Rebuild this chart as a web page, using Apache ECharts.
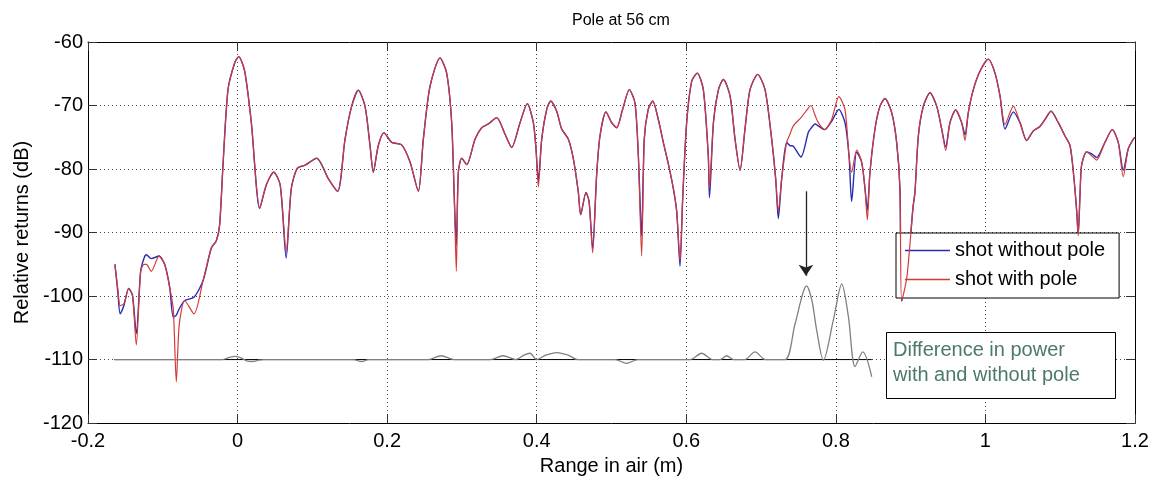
<!DOCTYPE html>
<html>
<head>
<meta charset="utf-8">
<script src="https://cdn.jsdelivr.net/npm/echarts@6/dist/echarts.min.js"></script>
<style>
html,body{margin:0;padding:0;background:#fff;}
#chart{width:1156px;height:481px;}
</style>
</head>
<body>
<div id="chart"></div>
<script>
// ---- data ----
const rangeX = [
 -0.164,-0.160,-0.157,-0.152,-0.1456,-0.1405,-0.1354,-0.1296,-0.125,-0.122,
 -0.1154,-0.105,-0.0975,-0.0908,-0.086,-0.0819,-0.078,-0.0707,-0.0583,-0.0462,
 -0.035,-0.0284,-0.024,-0.0195,-0.0128,-0.0039,0.0015,0.0095,0.0184,0.0296,
 0.0384,0.0483,0.057,0.065,0.0718,0.0798,0.0902,0.1058,0.1213,0.1339,
 0.1437,0.1526,0.1615,0.1704,0.1771,0.1815,0.1882,0.1958,0.2061,0.2194,
 0.2306,0.2417,0.2484,0.2573,0.2707,0.2796,0.2863,0.2898,0.2925,0.2952,
 0.2997,0.3064,0.3175,0.3264,0.3353,0.3465,0.3576,0.3665,0.3777,0.3874,
 0.3955,0.399,0.4022,0.4067,0.4134,0.4187,0.4267,0.4334,0.4423,0.449,
 0.4556,0.4588,0.4659,0.470,0.4748,0.4801,0.4846,0.4926,0.5002,0.5069,
 0.5149,0.5238,0.5314,0.5359,0.5403,0.5438,0.5491,0.5551,0.5626,0.5693,
 0.576,0.5827,0.5872,0.5916,0.5952,0.6005,0.6072,0.6147,0.6228,0.6294,
 0.631,0.6363,0.643,0.6496,0.6585,0.6652,0.6719,0.6785,0.6852,0.6955,
 0.7053,0.7142,0.7195,0.7231,0.7276,0.7342,0.7387,0.7431,0.7534,0.7632,
 0.7667,0.7721,0.7765,0.785,0.7944,0.804,0.8122,0.8176,0.8211,0.8278,
 0.8345,0.839,0.8421,0.8456,0.8523,0.859,0.8657,0.8746,0.8813,0.8857,
 0.888,0.895,0.9032,0.9058,0.9103,0.917,0.9259,0.9348,0.9415,0.9469,
 0.9526,0.9602,0.9682,0.9727,0.9771,0.9838,0.9927,1.0039,1.0128,1.0195,
 1.0262,1.0373,1.0462,1.0551,1.064,1.0729,1.0796,1.0877,1.0975,1.1064,
 1.1131,1.1176,1.1221,1.124,1.1265,1.1286,1.1353,1.142,1.1487,1.1598,
 1.1696,1.1776,1.1843,1.191,1.1977,1.2
];
const withPole = [
 -95.0,-99.0,-101.5,-101.2,-98.8,-99.9,-107.7,-96.1,-95.0,-95.0,
 -96.1,-93.7,-95.0,-98.6,-102.0,-113.5,-104.5,-100.7,-102.8,-97.6,
 -92.4,-91.3,-88.8,-79.4,-67.5,-63.3,-62.3,-64.6,-72.7,-86.2,
 -82.5,-80.5,-82.5,-93.0,-83.1,-79.9,-79.4,-78.3,-81.5,-83.5,
 -75.3,-70.1,-67.6,-70.1,-76.3,-80.5,-76.3,-74.3,-75.8,-76.2,
 -78.9,-83.5,-75.3,-67.0,-62.5,-64.9,-72.7,-84.6,-96.1,-80.5,
 -78.3,-79.3,-75.3,-73.5,-72.9,-71.9,-74.5,-76.6,-72.7,-69.7,
 -72.7,-76.8,-82.8,-75.3,-70.6,-69.3,-70.9,-73.7,-75.3,-78.4,
 -83.6,-87.2,-83.7,-85.1,-93.2,-81.0,-74.8,-71.0,-72.7,-73.5,
 -70.6,-67.5,-69.6,-77.9,-93.7,-75.3,-70.6,-69.3,-72.2,-75.8,
 -79.2,-83.1,-86.7,-94.5,-84.6,-72.7,-66.2,-64.9,-67.5,-77.9,
 -83.0,-72.7,-67.5,-65.9,-68.5,-75.3,-80.2,-73.7,-67.5,-65.1,
 -67.5,-75.3,-81.5,-86.7,-81.5,-75.8,-74.5,-73.2,-71.9,-70.4,
 -70.0,-71.5,-72.7,-73.8,-72.2,-68.6,-70.6,-77.9,-80.5,-77.0,
 -78.9,-83.1,-88.0,-80.5,-73.7,-70.1,-68.9,-71.1,-75.8,-83.1,
 -100.8,-97.0,-86.0,-83.6,-74.8,-70.1,-68.0,-70.1,-73.7,-77.1,
 -72.7,-70.7,-72.7,-75.5,-71.1,-67.5,-64.6,-62.7,-64.9,-68.5,
 -73.0,-70.1,-72.7,-75.5,-74.0,-73.3,-72.2,-70.9,-72.7,-74.8,
 -76.3,-80.5,-86.7,-90.5,-84.0,-79.4,-77.3,-77.9,-78.6,-75.8,
 -73.8,-75.8,-81.2,-76.8,-75.3,-75.0
];
const withoutPole = [
 -95.0,-99.5,-102.8,-101.5,-98.8,-99.9,-105.9,-96.1,-94.0,-93.5,
 -94.1,-93.7,-95.0,-98.6,-103.3,-103.0,-102.0,-100.7,-100.2,-97.6,
 -92.4,-91.3,-88.8,-79.4,-67.5,-63.3,-62.3,-64.6,-72.7,-86.2,
 -82.5,-80.5,-82.5,-94.0,-83.1,-79.9,-79.4,-78.3,-81.5,-83.5,
 -75.3,-70.1,-67.6,-70.1,-76.3,-80.5,-76.3,-74.3,-75.8,-76.2,
 -78.9,-83.5,-75.3,-67.0,-62.5,-64.9,-72.7,-84.6,-92.0,-80.5,
 -78.3,-79.3,-75.3,-73.5,-72.9,-71.9,-74.5,-76.6,-72.7,-69.7,
 -72.7,-76.8,-81.8,-75.3,-70.6,-69.3,-70.9,-73.7,-75.3,-78.4,
 -83.6,-87.2,-83.7,-85.1,-92.5,-81.0,-74.8,-71.0,-72.7,-73.5,
 -70.6,-67.5,-69.6,-77.9,-90.5,-75.3,-70.6,-69.3,-72.2,-75.8,
 -79.2,-83.1,-86.7,-95.3,-84.6,-72.7,-66.2,-64.9,-67.5,-77.9,
 -84.5,-72.7,-67.5,-65.9,-68.5,-75.3,-80.2,-73.7,-67.5,-65.1,
 -67.5,-75.3,-81.5,-87.8,-81.5,-75.8,-76.3,-76.4,-78.1,-74.2,
 -73.6,-72.9,-73.2,-73.8,-72.5,-70.6,-72.7,-77.9,-85.1,-77.3,
 -78.9,-83.1,-86.5,-80.5,-73.7,-70.1,-68.9,-71.1,-75.8,-83.1,
 -100.8,-97.0,-86.0,-83.6,-74.8,-70.1,-68.0,-70.1,-73.7,-76.5,
 -72.7,-70.7,-72.7,-74.6,-71.1,-67.5,-64.6,-62.7,-64.9,-68.5,
 -73.7,-71.0,-72.7,-75.5,-74.0,-73.3,-72.2,-70.9,-72.7,-74.8,
 -76.3,-80.5,-86.7,-90.5,-84.0,-79.4,-77.3,-77.6,-78.2,-75.8,
 -73.8,-75.8,-80.2,-76.8,-75.3,-75.0
];
// difference in power, drawn offset to -110 dB
const diffX = [
 -0.165,-0.02,-0.012,-0.003,0.006,0.012,0.02,0.028,0.035,0.155,
 0.166,0.175,0.255,0.272,0.29,0.338,0.355,0.372,0.383,0.391,
 0.40,0.412,0.427,0.442,0.455,0.505,0.52,0.535,0.605,0.6205,
 0.635,0.645,0.654,0.663,0.678,0.692,0.706,0.732,0.7454,0.761,
 0.768,0.7744,0.7833,0.7966,0.8079,0.8167,0.8257,0.836,0.848
];
const diffY = [
 -110,-110,-109.7,-109.5,-109.8,-110.2,-110.3,-110.1,-110,-110,
 -110.3,-110,-110,-109.4,-110,-110,-109.4,-110,-109.3,-109.0,
 -110,-109.3,-108.9,-109.3,-110,-110,-110.6,-110,-110,-109.0,
 -110,-110,-109.4,-110,-110,-108.8,-110,-110,-104.4,-98.4,
 -100.7,-105.4,-110.1,-103.8,-98.1,-103.2,-111.1,-108.8,-112.7
];
const baseX = [-0.165, 0.848];
const baseY = [-110, -110];
const arrowX = [0.76, 0.76];
const arrowY = [-83.5, -96.8];
const xTickLabels = ['-0.2','0','0.2','0.4','0.6','0.8','1','1.2'];
const yTickLabels = ['-120','-110','-100','-90','-80','-70','-60'];
const seriesNames = ['shot without pole','shot with pole'];
const titleText = 'Pole at 56 cm';
const xName = 'Range in air (m)';
const yName = 'Relative returns (dB)';
const noteText = 'Difference in power\nwith and without pole';

// ---- chart ----
const zip = (a, b) => a.map((v, i) => [v, b[i]]);
const FONT = '"Liberation Sans", Arial, sans-serif';
const chart = echarts.init(document.getElementById('chart'), null, {renderer: 'canvas'});
const grid = {left: 88, right: 21, top: 42, bottom: 54, containLabel: false};
const gridLine = {show: true, lineStyle: {color: '#444', width: 1, type: [1, 3]}};
const tick = {show: true, inside: true, length: 9, lineStyle: {color: '#333'}};
const axLine = {show: true, onZero: false, lineStyle: {color: '#000', width: 1}};

chart.setOption({
  animation: false,
  backgroundColor: '#fff',
  textStyle: {fontFamily: FONT},
  title: {
    text: titleText, left: 567, top: 8,
    textStyle: {fontSize: 16, fontWeight: 'normal', color: '#000', fontFamily: FONT}
  },
  grid: grid,
  legend: {
    data: seriesNames,
    orient: 'vertical', left: 896, top: 233,
    icon: 'rect', itemWidth: 45, itemHeight: 1.5, itemGap: 6,
    padding: [6, 14, 7, 9],
    backgroundColor: '#fff', borderColor: '#000', borderWidth: 1,
    textStyle: {fontSize: 20, color: '#000', fontFamily: FONT, lineHeight: 23}
  },
  xAxis: [{
    type: 'value', min: -0.2, max: 1.2, interval: 0.2,
    name: xName, nameLocation: 'middle', nameGap: 31,
    nameTextStyle: {fontSize: 20, color: '#000', fontFamily: FONT},
    axisLine: axLine, axisTick: tick, splitLine: gridLine,
    axisLabel: {fontSize: 20, color: '#000', margin: 8, fontFamily: FONT,
      formatter: (v, i) => xTickLabels[i]}
  }, {
    type: 'value', position: 'top', min: -0.2, max: 1.2, interval: 0.2,
    axisLine: axLine, axisTick: tick, splitLine: {show: false}, axisLabel: {show: false}
  }],
  yAxis: [{
    type: 'value', min: -120, max: -60, interval: 10,
    name: yName, nameLocation: 'middle', nameGap: 54, nameRotate: 90,
    nameTextStyle: {fontSize: 20, color: '#000', fontFamily: FONT},
    axisLine: axLine, axisTick: tick, splitLine: gridLine,
    axisLabel: {fontSize: 20, color: '#000', margin: 5, fontFamily: FONT,
      formatter: (v, i) => yTickLabels[i]}
  }, {
    type: 'value', position: 'right', min: -120, max: -60, interval: 10,
    axisLine: axLine, axisTick: tick, splitLine: {show: false}, axisLabel: {show: false}
  }],
  series: [
    {
      name: seriesNames[0], type: 'line', data: zip(rangeX, withoutPole),
      symbol: 'none', smooth: 0.25, z: 3,
      lineStyle: {color: '#2a2ab4', width: 1.4}, itemStyle: {color: '#2a2ab4'}
    },
    {
      name: seriesNames[1], type: 'line', data: zip(rangeX, withPole),
      symbol: 'none', smooth: 0.25, z: 4,
      lineStyle: {color: '#d23a3a', width: 1.2}, itemStyle: {color: '#d23a3a'}
    },
    {
      name: 'baseline', type: 'line', data: zip(baseX, baseY),
      symbol: 'none', z: 3, silent: true,
      lineStyle: {color: '#000', width: 1}
    },
    {
      name: 'difference', type: 'line', data: zip(diffX, diffY),
      symbol: 'none', smooth: 0.3, z: 4, silent: true,
      lineStyle: {color: '#808080', width: 1.3},
      markLine: {
        silent: true, symbol: ['none', 'arrow'], symbolSize: 11,
        label: {show: false},
        lineStyle: {color: '#222', width: 1.3, type: 'solid'},
        data: [[{coord: [arrowX[0], arrowY[0]]}, {coord: [arrowX[1], arrowY[1]]}]]
      }
    }
  ],
  graphic: [
    {type: 'rect', left: 886, top: 332, z: 10,
      shape: {width: 229, height: 66},
      style: {fill: '#fff', stroke: '#000', lineWidth: 1}},
    {type: 'text', left: 893, top: 338, z: 11,
      style: {text: noteText, fill: '#4b7a68', font: '20px ' + FONT, lineHeight: 25}}
  ]
});
</script>
</body>
</html>
